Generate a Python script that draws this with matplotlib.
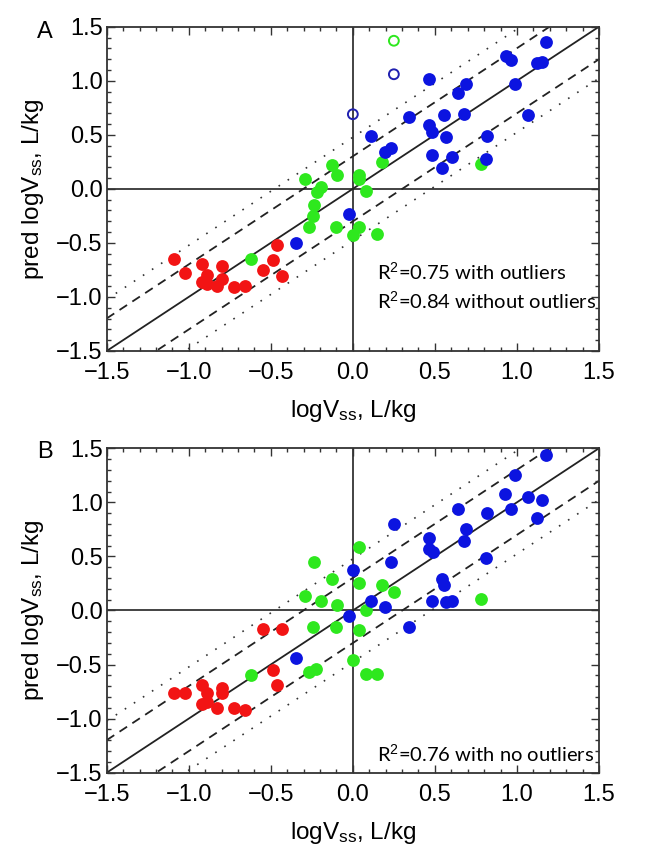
import numpy as np
import matplotlib
matplotlib.use('Agg')
import matplotlib.pyplot as plt
from matplotlib.ticker import MultipleLocator, FuncFormatter

plt.rcParams['font.family'] = ['Liberation Sans', 'DejaVu Sans']
plt.rcParams['mathtext.fontset'] = 'custom'
plt.rcParams['mathtext.rm'] = 'Liberation Sans'
plt.rcParams['mathtext.it'] = 'Liberation Sans:italic'

# panel A, observed vs predicted logVss
red_x_a = [-1.09, -1.02, -0.92, -0.89, -0.92, -0.89, -0.83, -0.80, -0.80, -0.725, -0.656, -0.546, -0.485, -0.46, -0.43]
red_y_a = [-0.65, -0.78, -0.70, -0.80, -0.86, -0.88, -0.895, -0.715, -0.83, -0.91, -0.90, -0.75, -0.66, -0.52, -0.81]

green_x_a = [0.78, 0.18, -0.125, -0.095, -0.29, 0.04, 0.04, -0.197, -0.22, 0.08,
             -0.237, -0.245, -0.27, -0.10, 0.04, 0.0, 0.148, -0.62]
green_y_a = [0.23, 0.25, 0.22, 0.13, 0.09, 0.13, 0.09, 0.015, -0.03, -0.016,
             -0.15, -0.25, -0.355, -0.355, -0.355, -0.43, -0.42, -0.65]

blue_x_a = [0.465, 0.936, 0.966, 1.18, 1.12, 1.15, 0.99, 0.69, 0.64, 0.68, 0.556, 0.34, 0.465,
            0.485, 0.566, 0.82, 1.07, 0.11, 0.197, 0.23, 0.485, 0.607, 0.546, 0.81, -0.025, -0.347]
blue_y_a = [1.02, 1.23, 1.19, 1.36, 1.16, 1.17, 0.97, 0.97, 0.89, 0.69, 0.68, 0.66, 0.59,
            0.53, 0.475, 0.49, 0.68, 0.49, 0.34, 0.38, 0.31, 0.29, 0.19, 0.28, -0.23, -0.50]

# outliers (open circles)
out_green_x = [0.25]
out_green_y = [1.37]
out_blue_x = [0.25, 0.0]
out_blue_y = [1.06, 0.69]

# panel B
red_x_b = [-0.546, -0.43, -0.485, -0.46, -1.09, -1.02, -0.92, -0.89, -0.92, -0.89, -0.80, -0.80, -0.83, -0.725, -0.656]
red_y_b = [-0.17, -0.17, -0.555, -0.685, -0.765, -0.765, -0.685, -0.765, -0.865, -0.85, -0.72, -0.76, -0.905, -0.905, -0.92]

green_x_b = [-0.237, 0.04, -0.125, 0.04, 0.18, -0.29, -0.197, -0.095, 0.25, 0.08,
             0.78, -0.245, -0.10, 0.04, -0.62, -0.27, -0.227, 0.0, 0.08, 0.148]
green_y_b = [0.45, 0.586, 0.287, 0.256, 0.24, 0.13, 0.086, 0.046, 0.17, 0.006,
             0.11, -0.155, -0.155, -0.18, -0.60, -0.57, -0.54, -0.457, -0.586, -0.586]

blue_x_b = [1.18, 0.99, 0.93, 1.07, 1.15, 0.966, 0.64, 0.82, 1.12, 0.25, 0.69, 0.68, 0.465, 0.465,
            0.49, 0.23, 0.81, 0.0, 0.546, 0.556, 0.11, 0.197, 0.485, 0.566, 0.607, -0.025, 0.34, -0.347]
blue_y_b = [1.44, 1.25, 1.08, 1.05, 1.02, 0.935, 0.935, 0.90, 0.855, 0.80, 0.75, 0.64, 0.67, 0.57,
            0.54, 0.45, 0.485, 0.37, 0.29, 0.24, 0.086, 0.03, 0.09, 0.077, 0.086, -0.055, -0.155, -0.44]

RED = '#f21414'
GREEN = '#2ee81e'
BLUE = '#0c14e0'

fig = plt.figure(figsize=(6.64, 8.64), dpi=100)
ax_a = fig.add_axes([0.1607, 0.5938, 0.7414, 0.3753])
ax_b = fig.add_axes([0.1607, 0.1057, 0.7414, 0.3755])


def fmt(v, p):
    return ('%.1f' % v).replace('-', '\u2212')


def setup(ax):
    ax.set_xlim(-1.5, 1.5)
    ax.set_ylim(-1.5, 1.5)
    xx = np.array([-1.5, 1.5])
    ax.plot(xx, xx, color='#222222', lw=1.3, zorder=1)
    for off in [np.log10(2), -np.log10(2)]:
        ax.plot(xx, xx + off, color='#222222', lw=1.3, ls=(0, (5, 3.5)), zorder=1)
    for off in [np.log10(3), -np.log10(3)]:
        ax.plot(xx, xx + off, color='#333333', lw=1.2, ls=(0, (1, 5.5)), zorder=1)
    ax.axhline(0, color='#222222', lw=1.2, zorder=1)
    ax.axvline(0, color='#222222', lw=1.2, zorder=1)
    ax.xaxis.set_major_locator(MultipleLocator(0.5))
    ax.yaxis.set_major_locator(MultipleLocator(0.5))
    ax.xaxis.set_minor_locator(MultipleLocator(0.1))
    ax.yaxis.set_minor_locator(MultipleLocator(0.1))
    ax.tick_params(which='both', direction='in', top=True, right=True, labelsize=17,
                   color='#333333', width=1.0)
    ax.tick_params(which='major', length=6)
    ax.tick_params(which='minor', length=3)
    ax.tick_params(axis='x', pad=8)
    ax.tick_params(axis='y', pad=3)
    ax.xaxis.set_major_formatter(FuncFormatter(fmt))
    ax.yaxis.set_major_formatter(FuncFormatter(fmt))
    for s in ax.spines.values():
        s.set_linewidth(1.3)
        s.set_color('#333333')
    ax.set_xlabel('logV$_{\\mathrm{ss}}$, L/kg', fontsize=17.5, labelpad=10)
    ax.set_ylabel('pred logV$_{\\mathrm{ss}}$, L/kg', fontsize=17.5, labelpad=7)


setup(ax_a)
setup(ax_b)

ms = 85
ax_a.scatter(red_x_a, red_y_a, s=ms, color=RED, lw=0, zorder=3)
ax_a.scatter(green_x_a, green_y_a, s=ms, color=GREEN, lw=0, zorder=3)
ax_a.scatter(blue_x_a, blue_y_a, s=ms, color=BLUE, lw=0, zorder=3)
ax_a.scatter(out_green_x, out_green_y, s=50, facecolor='none', edgecolor=GREEN, lw=1.4, zorder=3)
ax_a.scatter(out_blue_x, out_blue_y, s=50, facecolor='none', edgecolor='#2020b0', lw=1.4, zorder=3)

ax_b.scatter(red_x_b, red_y_b, s=ms, color=RED, lw=0, zorder=3)
ax_b.scatter(green_x_b, green_y_b, s=ms, color=GREEN, lw=0, zorder=3)
ax_b.scatter(blue_x_b, blue_y_b, s=ms, color=BLUE, lw=0, zorder=3)

tf = ['Lato', 'DejaVu Sans']
ax_a.text(0.145, -0.84, 'R$^2$=0.75 with outliers', fontsize=14.5, family=tf, va='baseline', ha='left', zorder=4)
ax_a.text(0.145, -1.11, 'R$^2$=0.84 without outliers', fontsize=14.5, family=tf, va='baseline', ha='left', zorder=4)
ax_b.text(0.145, -1.40, 'R$^2$=0.76 with no outliers', fontsize=14.5, family=tf, va='baseline', ha='left', zorder=4)

fig.text(45 / 664, 1 - 32 / 864, 'A', fontsize=17, ha='center', va='center')
fig.text(45 / 664, 1 - 452 / 864, 'B', fontsize=17, ha='center', va='center')

fig.savefig('out.png', dpi=100)
